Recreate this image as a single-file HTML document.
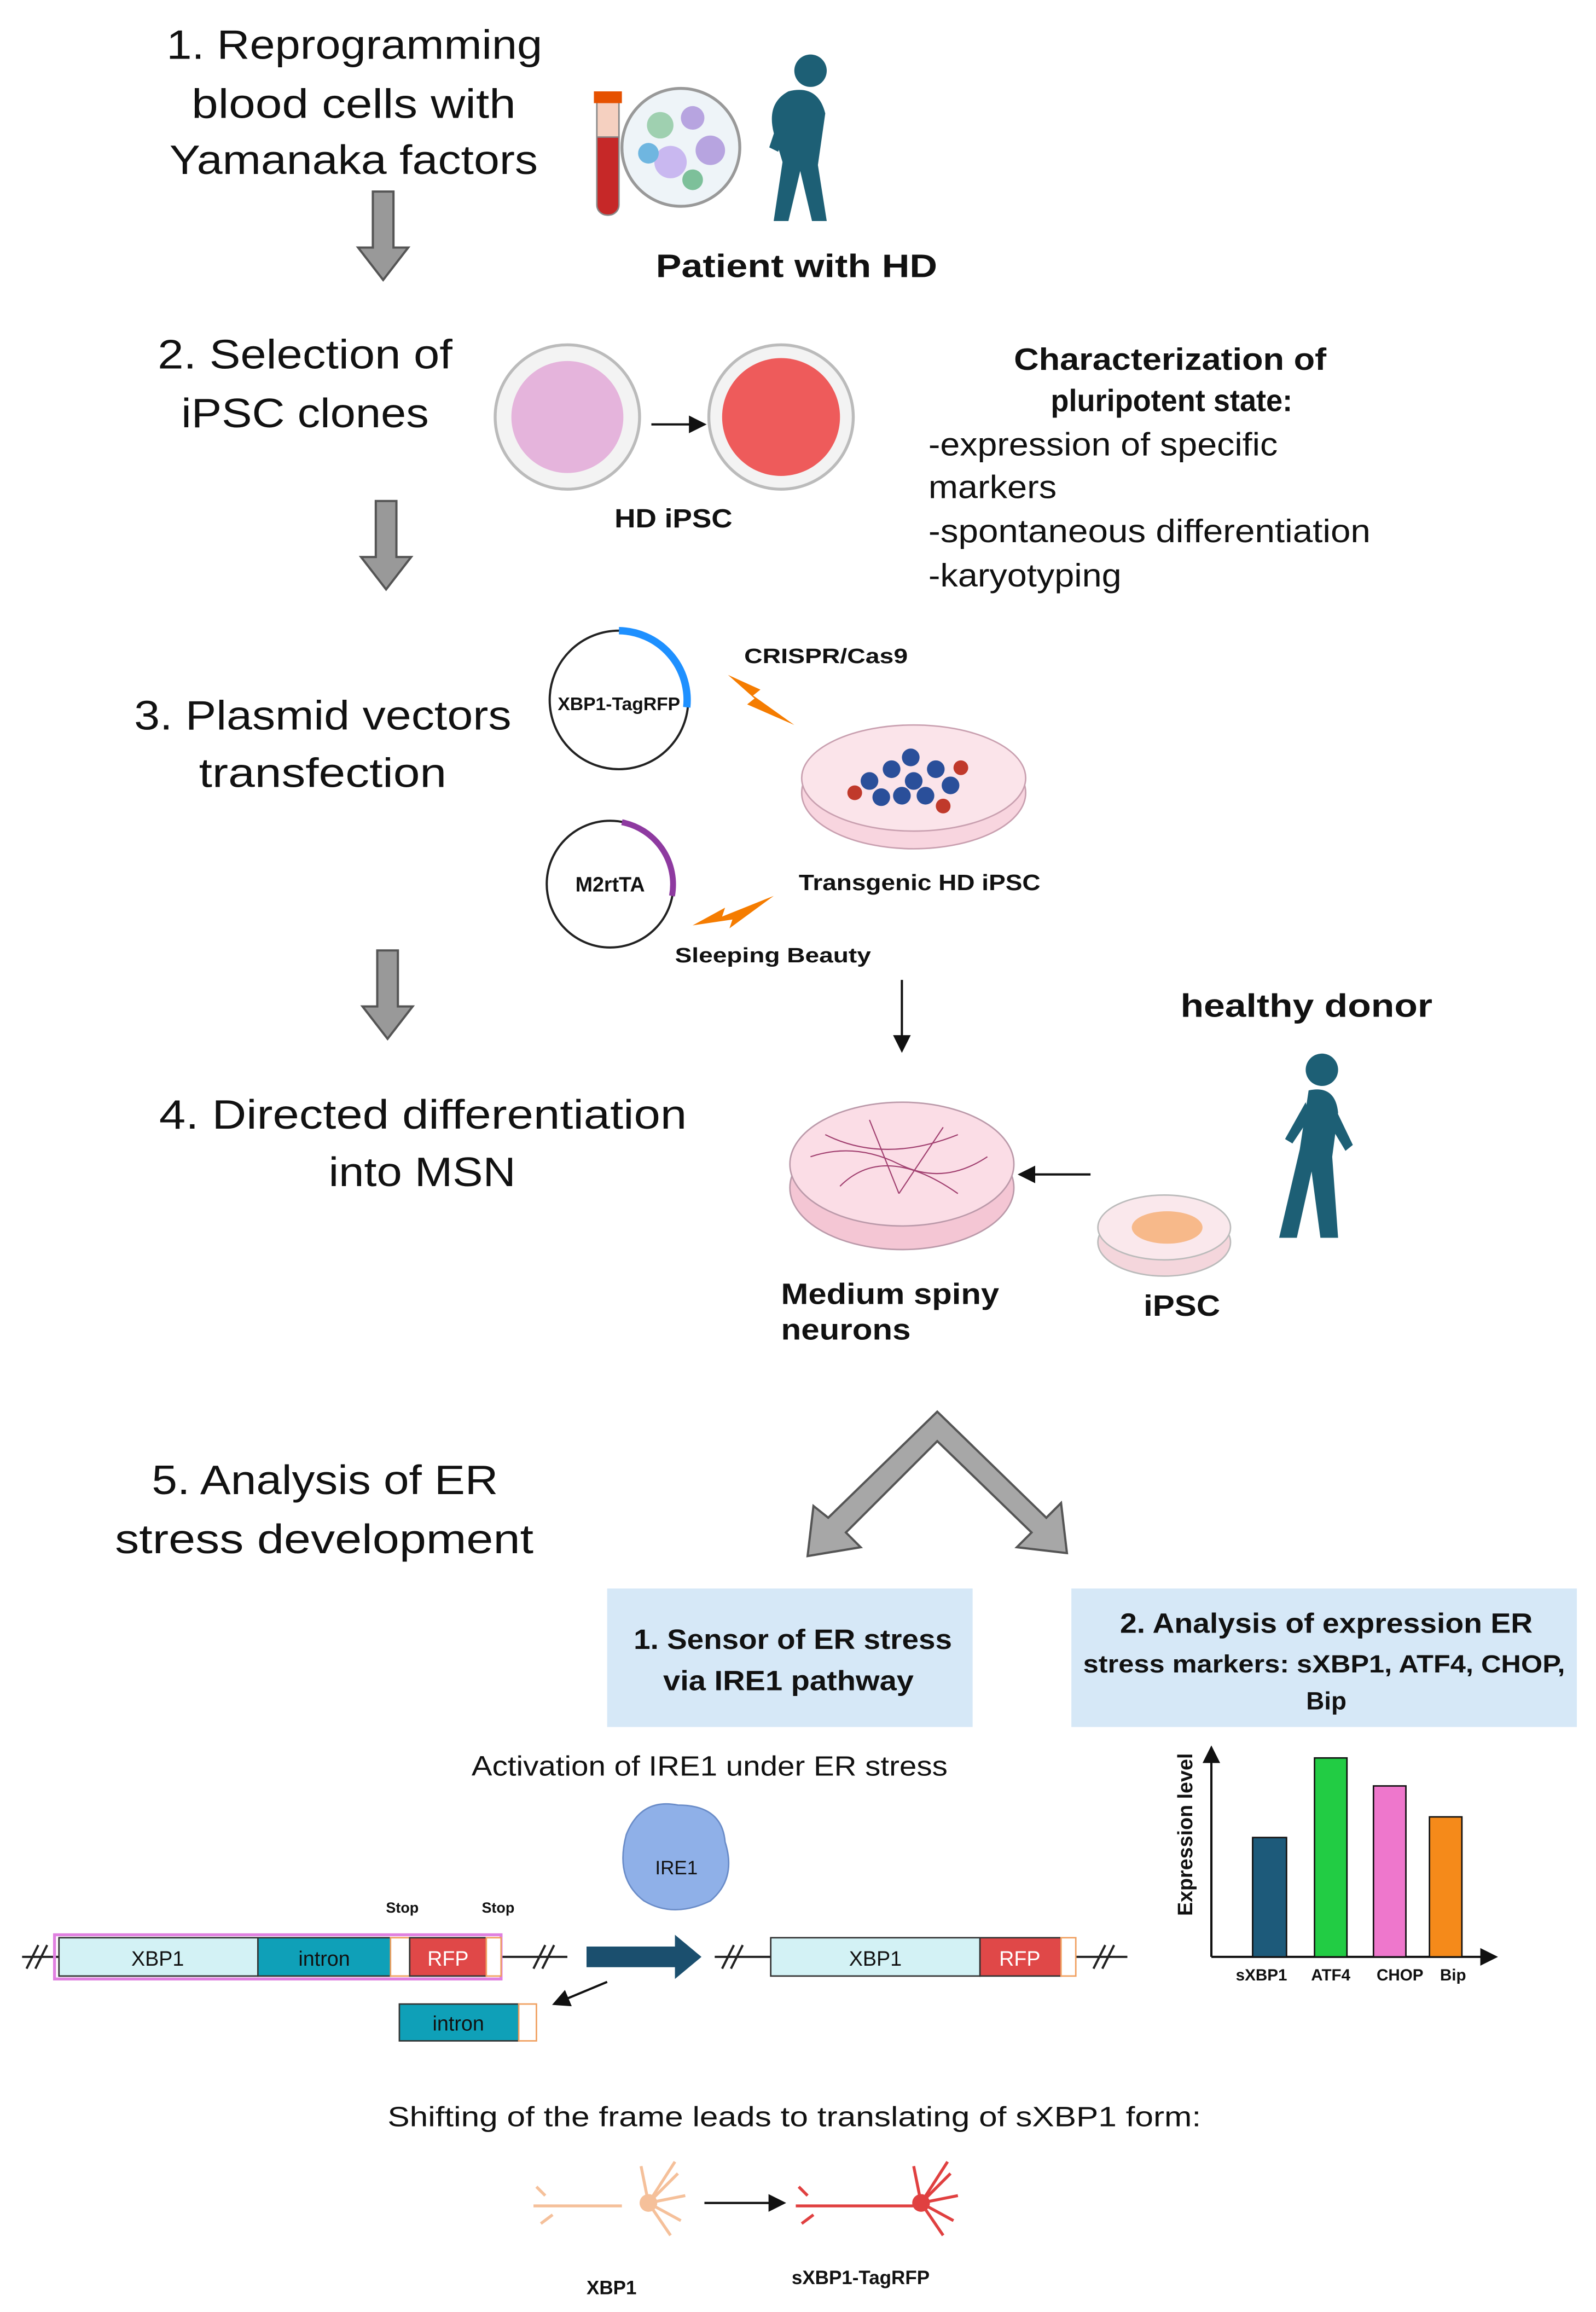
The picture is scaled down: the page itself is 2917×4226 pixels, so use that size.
<!DOCTYPE html>
<html><head><meta charset="utf-8"><style>
html,body{margin:0;padding:0;background:#fff;}
svg{display:block;}
text{font-family:"Liberation Sans",sans-serif;fill:#111;}
.t{font-size:28px;}
.b{font-weight:bold;}
</style></head><body>
<svg width="2917" height="4226" viewBox="0 0 1083 1569" xmlns="http://www.w3.org/2000/svg">
<defs>
<marker id="ah" markerWidth="8" markerHeight="8" refX="7" refY="4" orient="auto"><path d="M0,0 L8,4 L0,8z" fill="#111"/></marker>
<g id="garrow"><path d="M-7,0 h14 v38 h10 l-17,22 l-17,-22 h10z" fill="#999" stroke="#555" stroke-width="1.5"/></g>
</defs>

<!-- Step 1 -->
<text class="t" x="113" y="40" textLength="255" lengthAdjust="spacingAndGlyphs">1. Reprogramming</text>
<text class="t" x="130" y="80" textLength="220" lengthAdjust="spacingAndGlyphs">blood cells with</text>
<text class="t" x="115" y="118" textLength="250" lengthAdjust="spacingAndGlyphs">Yamanaka factors</text>
<use href="#garrow" x="260" y="130"/>
<rect x="405" y="68" width="15" height="78" rx="7" fill="#c62828" stroke="#888"/>
<rect x="405" y="68" width="15" height="25" fill="#f5d0c0" stroke="#888"/>
<rect x="403" y="62" width="19" height="8" fill="#e65100"/>
<circle cx="462" cy="100" r="40" fill="#eef4f8" stroke="#999" stroke-width="2"/>
<circle cx="448" cy="85" r="9" fill="#9fd0b0"/><circle cx="470" cy="80" r="8" fill="#b7a4e0"/>
<circle cx="482" cy="102" r="10" fill="#b7a4e0"/><circle cx="455" cy="110" r="11" fill="#c9b8f0"/>
<circle cx="440" cy="104" r="7" fill="#6fb6e0"/><circle cx="470" cy="122" r="7" fill="#7dc09a"/>
<g fill="#1d5f75">
<circle cx="550" cy="48" r="11"/>
<path d="M535,62 q20,-5 25,15 l-5,35 l6,38 h-10 l-8,-34 l-8,34 h-10 l6,-40 l-6,-20 q-5,-20 10,-28z"/>
<path d="M532,70 l-10,30 l6,3 l10,-25z"/>
</g>
<text class="b" x="445" y="188" font-size="22" textLength="191" lengthAdjust="spacingAndGlyphs">Patient with HD</text>

<!-- Step 2 -->
<text class="t" x="107" y="250" textLength="200" lengthAdjust="spacingAndGlyphs">2. Selection of</text>
<text class="t" x="123" y="290" textLength="168" lengthAdjust="spacingAndGlyphs">iPSC clones</text>
<use href="#garrow" x="262" y="340"/>
<circle cx="385" cy="283" r="49" fill="#f3f3f3" stroke="#bbb" stroke-width="2"/>
<circle cx="385" cy="283" r="38" fill="#e5b4dc"/>
<circle cx="530" cy="283" r="49" fill="#f3f3f3" stroke="#bbb" stroke-width="2"/>
<circle cx="530" cy="283" r="40" fill="#ee5b5b"/>
<line x1="442" y1="288" x2="478" y2="288" stroke="#111" stroke-width="1.5" marker-end="url(#ah)"/>
<text class="b" x="417" y="358" font-size="18" textLength="80" lengthAdjust="spacingAndGlyphs">HD iPSC</text>
<text class="b" x="688" y="251" font-size="21" textLength="212" lengthAdjust="spacingAndGlyphs">Characterization of</text>
<text class="b" x="713" y="279" font-size="21" textLength="164" lengthAdjust="spacingAndGlyphs">pluripotent state:</text>
<g font-size="22"><text x="630" y="309" textLength="237" lengthAdjust="spacingAndGlyphs">-expression of specific</text>
<text x="630" y="338" textLength="87" lengthAdjust="spacingAndGlyphs">markers</text>
<text x="630" y="368" textLength="300" lengthAdjust="spacingAndGlyphs">-spontaneous differentiation</text>
<text x="630" y="398" textLength="131" lengthAdjust="spacingAndGlyphs">-karyotyping</text></g>

<!-- Step 3 -->
<text class="t" x="91" y="495" textLength="256" lengthAdjust="spacingAndGlyphs">3. Plasmid vectors</text>
<text class="t" x="135" y="534" textLength="168" lengthAdjust="spacingAndGlyphs">transfection</text>
<circle cx="420" cy="475" r="47" fill="none" stroke="#222" stroke-width="1.5"/>
<path d="M420,428 A47,47 0 0 1 466,480" fill="none" stroke="#1e90ff" stroke-width="5"/>
<text class="b" x="420" y="482" font-size="12.5" text-anchor="middle">XBP1-TagRFP</text>
<text class="b" x="505" y="450" font-size="14" textLength="111" lengthAdjust="spacingAndGlyphs">CRISPR/Cas9</text>
<path d="M494,458 l22,10 l-5,4 l28,20 l-32,-14 l5,-4 z" fill="#f57c00"/>
<ellipse cx="620" cy="538" rx="76" ry="38" fill="#f8d5df" stroke="#c9a0b0"/>
<ellipse cx="620" cy="528" rx="76" ry="36" fill="#fbe4ea" stroke="#c9a0b0"/>
<g fill="#2a4f9a"><circle cx="590" cy="530" r="6"/><circle cx="605" cy="522" r="6"/><circle cx="620" cy="530" r="6"/><circle cx="635" cy="522" r="6"/><circle cx="612" cy="540" r="6"/><circle cx="628" cy="540" r="6"/><circle cx="645" cy="533" r="6"/><circle cx="598" cy="541" r="6"/><circle cx="618" cy="514" r="6"/></g>
<g fill="#c0392b"><circle cx="580" cy="538" r="5"/><circle cx="652" cy="521" r="5"/><circle cx="640" cy="547" r="5"/></g>
<text class="b" x="542" y="604" font-size="15" textLength="164" lengthAdjust="spacingAndGlyphs">Transgenic HD iPSC</text>
<circle cx="414" cy="600" r="43" fill="none" stroke="#222" stroke-width="1.5"/>
<path d="M422,558 A43,43 0 0 1 456,608" fill="none" stroke="#8e3aa0" stroke-width="4"/>
<text class="b" x="414" y="605" font-size="14" text-anchor="middle">M2rtTA</text>
<path d="M470,628 l22,-12 l-2,6 l35,-14 l-30,22 l2,-6 z" fill="#f57c00"/>
<text class="b" x="458" y="653" font-size="14" textLength="133" lengthAdjust="spacingAndGlyphs">Sleeping Beauty</text>
<use href="#garrow" x="263" y="645"/>
<line x1="612" y1="665" x2="612" y2="713" stroke="#111" stroke-width="1.5" marker-end="url(#ah)"/>

<!-- Step 4 -->
<text class="b" x="801" y="690" font-size="22" textLength="171" lengthAdjust="spacingAndGlyphs">healthy donor</text>
<g fill="#1d5f75">
<circle cx="897" cy="726" r="11"/>
<path d="M888,740 q18,-4 20,15 l-4,30 l4,55 h-12 l-6,-45 l-10,45 h-12 l14,-60 z"/>
<path d="M906,752 l12,25 l-5,4 l-12,-20z"/><path d="M886,748 l-14,25 l5,3 l12,-18z"/>
</g>
<text class="t" x="108" y="766" textLength="358" lengthAdjust="spacingAndGlyphs">4. Directed differentiation</text>
<text class="t" x="223" y="805" textLength="127" lengthAdjust="spacingAndGlyphs">into MSN</text>
<ellipse cx="612" cy="806" rx="76" ry="42" fill="#f4c6d4" stroke="#bb9aaa"/>
<ellipse cx="612" cy="790" rx="76" ry="42" fill="#fbdde6" stroke="#bb9aaa"/>
<g stroke="#a14070" stroke-width="0.8" fill="none"><path d="M550,785 q30,-10 60,5 t60,-5"/><path d="M560,770 q40,20 90,0"/><path d="M570,805 q30,-30 80,5"/><path d="M590,760 l20,50"/><path d="M640,765 l-30,45"/></g>
<line x1="740" y1="797" x2="692" y2="797" stroke="#111" stroke-width="1.5" marker-end="url(#ah)"/>
<ellipse cx="790" cy="843" rx="45" ry="23" fill="#f4d6dc" stroke="#bbb"/>
<ellipse cx="790" cy="833" rx="45" ry="22" fill="#fae8ec" stroke="#bbb"/>
<ellipse cx="792" cy="833" rx="24" ry="11" fill="#f7b98a"/>
<text class="b" x="530" y="885" font-size="20" textLength="148" lengthAdjust="spacingAndGlyphs">Medium spiny</text>
<text class="b" x="530" y="909" font-size="20" textLength="88" lengthAdjust="spacingAndGlyphs">neurons</text>
<text class="b" x="776" y="893" font-size="20" textLength="52" lengthAdjust="spacingAndGlyphs">iPSC</text>

<!-- Step 5 -->
<text class="t" x="103" y="1014" textLength="235" lengthAdjust="spacingAndGlyphs">5. Analysis of ER</text>
<text class="t" x="78" y="1054" textLength="284" lengthAdjust="spacingAndGlyphs">stress development</text>
<path d="M636,958 L710,1030 L720,1020 L724,1054 L690,1050 L700,1040 L636,978 L574,1040 L584,1050 L548,1056 L552,1022 L562,1030 Z" fill="#a7a7a7" stroke="#555" stroke-width="1.5"/>
<rect x="412" y="1078" width="248" height="94" fill="#d6e8f7"/>
<text class="b" x="430" y="1119" font-size="19" textLength="216" lengthAdjust="spacingAndGlyphs">1. Sensor of ER stress</text>
<text class="b" x="450" y="1147" font-size="19" textLength="170" lengthAdjust="spacingAndGlyphs">via IRE1 pathway</text>
<rect x="727" y="1078" width="343" height="94" fill="#d6e8f7"/>
<text class="b" x="760" y="1108" font-size="19" textLength="280" lengthAdjust="spacingAndGlyphs">2. Analysis of expression ER</text>
<text class="b" x="735" y="1135" font-size="17" textLength="327" lengthAdjust="spacingAndGlyphs">stress markers: sXBP1, ATF4, CHOP,</text>
<text class="b" x="900" y="1160" font-size="17" text-anchor="middle">Bip</text>
<text x="320" y="1205" font-size="19" textLength="323" lengthAdjust="spacingAndGlyphs">Activation of IRE1 under ER stress</text>
<path d="M425,1245 q10,-25 35,-20 q30,0 32,25 q8,25 -10,40 q-25,12 -45,0 q-20,-15 -12,-45z" fill="#8fb0e8" stroke="#6a8cc8"/>
<text x="459" y="1272" font-size="13" text-anchor="middle">IRE1</text>
<text class="b" x="273" y="1298" font-size="10" text-anchor="middle">Stop</text>
<text class="b" x="338" y="1298" font-size="10" text-anchor="middle">Stop</text>
<line x1="15" y1="1328" x2="385" y2="1328" stroke="#222" stroke-width="1.5"/>
<path d="M18,1336 l8,-16 M24,1336 l8,-16 M362,1336 l8,-16 M368,1336 l8,-16" stroke="#222" stroke-width="1.5"/>
<rect x="37" y="1313" width="303" height="30" fill="none" stroke="#e080e0" stroke-width="2"/>
<rect x="40" y="1315" width="135" height="26" fill="#d3f2f5" stroke="#333"/>
<text x="107" y="1334" font-size="14" text-anchor="middle">XBP1</text>
<rect x="175" y="1315" width="90" height="26" fill="#0fa0b8" stroke="#333"/>
<text x="220" y="1334" font-size="14" text-anchor="middle">intron</text>
<rect x="265" y="1315" width="13" height="26" fill="#fff" stroke="#f0a060"/>
<rect x="278" y="1315" width="52" height="26" fill="#e04848" stroke="#333"/>
<text x="304" y="1334" font-size="14" text-anchor="middle" style="fill:#fff">RFP</text>
<rect x="330" y="1315" width="10" height="26" fill="#fff" stroke="#f0a060"/>
<rect x="271" y="1360" width="81" height="25" fill="#0fa0b8" stroke="#333"/>
<text x="311" y="1378" font-size="14" text-anchor="middle">intron</text>
<rect x="352" y="1360" width="12" height="25" fill="#fff" stroke="#f0a060"/>
<line x1="412" y1="1345" x2="376" y2="1360" stroke="#111" stroke-width="1.5" marker-end="url(#ah)"/>
<path d="M398,1321 h60 v-8 l18,15 l-18,15 v-8 h-60z" fill="#1b4f6e"/>
<line x1="485" y1="1328" x2="765" y2="1328" stroke="#222" stroke-width="1.5"/>
<path d="M490,1336 l8,-16 M496,1336 l8,-16 M742,1336 l8,-16 M748,1336 l8,-16" stroke="#222" stroke-width="1.5"/>
<rect x="523" y="1315" width="142" height="26" fill="#d3f2f5" stroke="#333"/>
<text x="594" y="1334" font-size="14" text-anchor="middle">XBP1</text>
<rect x="665" y="1315" width="55" height="26" fill="#e04848" stroke="#333"/>
<text x="692" y="1334" font-size="14" text-anchor="middle" style="fill:#fff">RFP</text>
<rect x="720" y="1315" width="10" height="26" fill="#fff" stroke="#f0a060"/>
<line x1="822" y1="1328" x2="822" y2="1186" stroke="#111" stroke-width="1.5" marker-end="url(#ah)"/>
<line x1="822" y1="1328" x2="1015" y2="1328" stroke="#111" stroke-width="1.5" marker-end="url(#ah)"/>
<rect x="850" y="1247" width="23" height="81" fill="#1d5a7a" stroke="#111"/>
<rect x="892" y="1193" width="22" height="135" fill="#22cc44" stroke="#111"/>
<rect x="932" y="1212" width="22" height="116" fill="#ee77cc" stroke="#111"/>
<rect x="970" y="1233" width="22" height="95" fill="#f58a1a" stroke="#111"/>
<g font-size="11" font-weight="bold" text-anchor="middle"><text x="856" y="1344">sXBP1</text><text x="903" y="1344">ATF4</text><text x="950" y="1344">CHOP</text><text x="986" y="1344">Bip</text></g>
<text class="b" x="0" y="0" font-size="14" text-anchor="middle" transform="translate(809,1245) rotate(-90)">Expression level</text>
<text x="263" y="1443" font-size="19" textLength="552" lengthAdjust="spacingAndGlyphs">Shifting of the frame leads to translating of sXBP1 form:</text>
<g stroke="#f5c09a" stroke-width="2" fill="none"><path d="M362,1497 h60"/><path d="M370,1490 l-6,-6 M375,1503 l-8,6"/><path d="M440,1495 l20,-20 M440,1495 l25,-5 M440,1495 l22,12 M440,1495 l15,22 M440,1495 l-5,-25 M440,1495 l18,-28"/></g>
<circle cx="440" cy="1495" r="6" fill="#f5c09a"/>
<line x1="478" y1="1495" x2="532" y2="1495" stroke="#111" stroke-width="1.5" marker-end="url(#ah)"/>
<g stroke="#e04040" stroke-width="2" fill="none"><path d="M540,1497 h80"/><path d="M548,1490 l-6,-6 M552,1503 l-8,6"/><path d="M625,1495 l20,-20 M625,1495 l25,-5 M625,1495 l22,12 M625,1495 l15,22 M625,1495 l-5,-25 M625,1495 l18,-28"/></g>
<circle cx="625" cy="1495" r="6" fill="#e04040"/>
<text class="b" x="415" y="1557" font-size="13" text-anchor="middle">XBP1</text>
<text class="b" x="584" y="1550" font-size="13" text-anchor="middle">sXBP1-TagRFP</text>
</svg>
</body></html>
